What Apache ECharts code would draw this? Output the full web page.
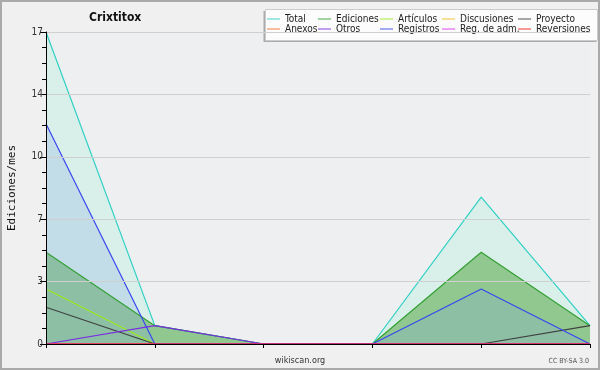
<!DOCTYPE html>
<html>
<head>
<meta charset="UTF-8">
<title>Crixtitox</title>
<script src="https://cdn.jsdelivr.net/npm/echarts@6/dist/echarts.min.js"></script>
<style>
  html, body { margin: 0; padding: 0; background: #f0f0f0; }
</style>
</head>
<body>
<div id="main" style="width: 600px;height:370px;"></div>
<script type="text/javascript">
// datos (ediciones por mes)
var meses = ['m1', 'm2', 'm3', 'm4', 'm5', 'm6'];
var total       = [17, 1, 0, 0, 8, 1];
var ediciones   = [5, 1, 0, 0, 5, 1];
var articulos   = [3, 0, 0, 0, 0, 0];
var discusiones = [0, 0, 0, 0, 0, 0];
var proyecto    = [2, 0, 0, 0, 0, 1];
var anexos      = [0, 0, 0, 0, 0, 0];
var otros       = [0, 1, 0, 0, 0, 0];
var registros   = [12, 0, 0, 0, 3, 0];
var regAdm      = [0, 0, 0, 0, 0, 0];
var reversiones = [0, 0, 0, 0, 0, 0];
var yMax = 17;
var yPaso = 3.4;

var fuente = 'DejaVu Sans Condensed, DejaVu Sans, sans-serif';

var myChart = echarts.init(document.getElementById('main'));

function serie(nombre, datos, color, area) {
    var s = {
        name: nombre,
        type: 'line',
        data: datos,
        symbol: 'none',
        silent: true,
        color: color,
        lineStyle: { width: 1.2, color: color }
    };
    if (area) s.areaStyle = { color: area, opacity: 1 };
    return s;
}

function leyenda(left, nombres) {
    return {
        orient: 'vertical',
        left: left,
        top: 14,
        z: 6,
        icon: 'rect',
        itemWidth: 13,
        itemHeight: 1.5,
        itemGap: 0,
        padding: 0,
        selectedMode: false,
        itemStyle: { opacity: 0.6 },
        textStyle: { fontFamily: fuente, fontSize: 10, color: '#222', lineHeight: 10 },
        data: nombres
    };
}

var option = {
    backgroundColor: '#f0f0f0',
    animation: false,
    title: {
        text: 'Crixtitox',
        left: 84,
        top: 7,
        textStyle: { fontFamily: fuente, fontSize: 12, fontWeight: 'bold', color: '#111' }
    },
    legend: [
        leyenda(267, ['Total', 'Anexos']),
        leyenda(318, ['Ediciones', 'Otros']),
        leyenda(380, ['Artículos', 'Registros']),
        leyenda(442, ['Discusiones', 'Reg. de adm.']),
        leyenda(518, ['Proyecto', 'Reversiones'])
    ],
    graphic: [
        { type: 'rect', z: 0, shape: { x: 1, y: 1, width: 598, height: 368 },
          style: { fill: 'none', stroke: '#aaa', lineWidth: 2 } },
        { type: 'rect', z: 4, shape: { x: 263.5, y: 11, width: 333, height: 31 },
          style: { fill: '#aaa' } },
        { type: 'rect', z: 5, shape: { x: 265.5, y: 9.5, width: 332, height: 31 },
          style: { fill: '#fcfcfc', stroke: '#ccc', lineWidth: 1 } },
        { type: 'text', z: 5, x: 300, y: 356, style: { text: 'wikiscan.org', fontFamily: fuente, fontSize: 9, fill: '#333', align: 'center' } },
        { type: 'text', z: 5, x: 589, y: 358, style: { text: 'CC BY-SA 3.0', fontFamily: fuente, fontSize: 7, fill: '#555', align: 'right' } }
    ],
    grid: {
        left: 46, right: 10, top: 32, bottom: 26,
        outerBoundsMode: 'none',
        containLabel: false,
        show: true, backgroundColor: '#eeeff1', borderWidth: 0
    },
    xAxis: {
        type: 'category',
        data: meses,
        boundaryGap: false,
        z: 10,
        axisLine: { lineStyle: { color: '#000', width: 1 } },
        axisTick: { show: true, length: 4, lineStyle: { color: '#000' } },
        axisLabel: { show: false },
        splitLine: { show: false }
    },
    yAxis: {
        type: 'value',
        min: 0,
        max: yMax,
        interval: yPaso,
        z: 10,
        name: 'Ediciones/mes',
        nameLocation: 'middle',
        nameRotate: 90,
        nameGap: 28,
        nameTextStyle: { fontFamily: 'DejaVu Sans Mono, monospace', fontSize: 11, color: '#111' },
        axisLine: { show: true, lineStyle: { color: '#000', width: 1 } },
        axisTick: { show: true, length: 6, lineStyle: { color: '#000' } },
        minorTick: { show: true, splitNumber: 4, length: 4, lineStyle: { color: '#000' } },
        axisLabel: {
            fontFamily: fuente, fontSize: 10, color: '#333', margin: 3,
            formatter: function (v) { return Math.round(v); }
        },
        splitLine: { show: true, lineStyle: { color: '#cfcfcf', width: 1 } }
    },
    series: [
        serie('Total', total, '#30d0c4', 'rgba(128,244,206,0.2)'),
        serie('Ediciones', ediciones, '#34a034', 'rgba(72,160,54,0.5)'),
        serie('Artículos', articulos, '#9ce81c'),
        serie('Discusiones', discusiones, '#f0c020'),
        serie('Proyecto', proyecto, '#404040'),
        serie('Anexos', anexos, '#f07030'),
        serie('Otros', otros, '#7a2ee0'),
        serie('Registros', registros, '#3a46f0', 'rgba(128,164,226,0.25)'),
        serie('Reg. de adm.', regAdm, '#e030f0'),
        serie('Reversiones', reversiones, '#f02020')
    ]
};

myChart.setOption(option);
</script>
</body>
</html>
